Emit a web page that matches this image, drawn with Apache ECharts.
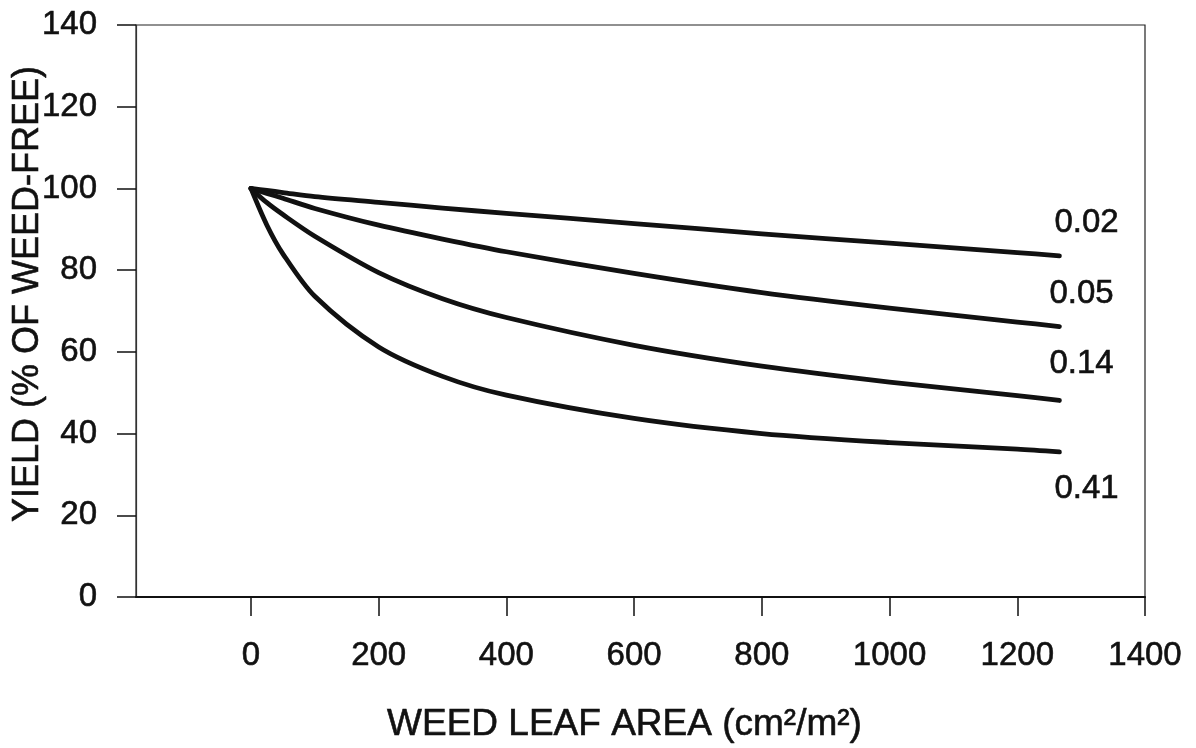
<!DOCTYPE html>
<html>
<head>
<meta charset="utf-8">
<script src="https://cdn.jsdelivr.net/npm/echarts@6/dist/echarts.min.js"></script>
<style>
  html, body { margin: 0; padding: 0; background: #fff; }
  #chart { width: 1196px; height: 748px; }
</style>
</head>
<body>
<div id="chart"></div>
<script>
// Weed leaf area (cm²/m²) at which each curve is sampled
const leafArea = [0, 25, 50, 100, 200, 300, 400, 600, 800, 1000, 1200, 1266];

// Yield (% of weed-free) for each damage coefficient
const curveNames = ['0.02', '0.05', '0.14', '0.41'];
const yield002 = [100, 99.5, 99.0, 98.0, 96.6, 95.2, 93.9, 91.4, 88.9, 86.6, 84.3, 83.5];
const yield005 = [100, 98.8, 97.6, 95.1, 91.0, 87.6, 84.5, 79.2, 74.5, 70.7, 67.3, 66.2];
const yield014 = [100, 96.5, 93.6, 88.3, 79.4, 73.0, 68.4, 61.6, 56.5, 52.6, 49.3, 48.1];
const yield041 = [100, 91.0, 84.0, 73.6, 61.2, 54.0, 49.4, 43.7, 40.0, 37.8, 36.2, 35.5];

// Axis tick positions
const xTicks = [0, 200, 400, 600, 800, 1000, 1200, 1400];

const FONT = '"Liberation Sans", Arial, sans-serif';
const INK = '#111';

// Shared text look: a hair-thin outline gives the print a slightly heavier weight
const textLook = { color: INK, fontFamily: FONT, textBorderColor: INK, textBorderWidth: 0.6 };

function pairs(ys) {
  return leafArea.map((x, i) => [x, ys[i]]);
}

// End-label offsets keep each coefficient just above/below its curve end
const labelOffsets = [[-13, -33], [-18, -33], [-18, -37], [-13, 37]];
const allYields = [yield002, yield005, yield014, yield041];

const series = allYields.map((ys, k) => ({
  name: curveNames[k],
  type: 'line',
  data: pairs(ys),
  smooth: 0.3,
  showSymbol: false,
  symbol: 'none',
  lineStyle: { color: INK, width: 4.8, cap: 'round', join: 'round' },
  endLabel: Object.assign({
    show: true,
    formatter: '{a}',
    fontSize: 33,
    offset: labelOffsets[k]
  }, textLook),
  z: 3
}));

const plain = v => String(v);

const chart = echarts.init(document.getElementById('chart'), null, { renderer: 'canvas' });
chart.setOption({
  animation: false,
  backgroundColor: '#fff',
  grid: {
    left: 136, right: 51, top: 25, bottom: 151,
    containLabel: false,
    outerBoundsMode: 'none',
    show: true, borderColor: '#222', borderWidth: 1.2, backgroundColor: 'transparent'
  },
  xAxis: {
    type: 'value',
    min: -180,
    max: 1400,
    name: 'WEED LEAF AREA (cm²/m²)',
    nameLocation: 'middle',
    nameGap: 109,
    nameMoveOverlap: false,
    nameTextStyle: Object.assign({ fontSize: 37, padding: [0, 32, 0, 0] }, textLook),
    axisLine: { show: true, onZero: false, lineStyle: { color: INK, width: 2 } },
    axisTick: { show: true, inside: false, length: 19, customValues: xTicks, lineStyle: { color: INK, width: 1.5 } },
    axisLabel: Object.assign({ show: true, customValues: xTicks, formatter: plain, margin: 42, fontSize: 33 }, textLook),
    splitLine: { show: false }
  },
  yAxis: {
    type: 'value',
    min: 0,
    max: 140,
    interval: 20,
    name: 'YIELD (% OF WEED-FREE)',
    nameLocation: 'middle',
    nameRotate: 90,
    nameGap: 90,
    nameMoveOverlap: false,
    nameTextStyle: Object.assign({ fontSize: 36, padding: [0, 0, 0, 34] }, textLook),
    axisLine: { show: true, onZero: false, lineStyle: { color: '#333', width: 1.2 } },
    axisTick: { show: true, inside: false, length: 19, lineStyle: { color: INK, width: 1.5 } },
    axisLabel: Object.assign({ formatter: plain, margin: 39, fontSize: 33 }, textLook),
    splitLine: { show: false }
  },
  series: series
});
</script>
</body>
</html>
